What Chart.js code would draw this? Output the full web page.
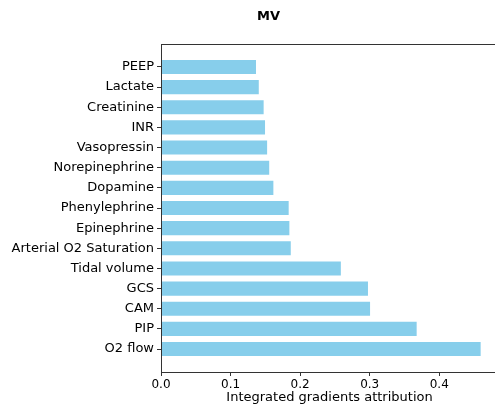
<!DOCTYPE html>
<html>
<head>
<meta charset="utf-8">
<script src="https://cdn.jsdelivr.net/npm/chart.js@4"></script>
<style>
html,body{margin:0;padding:0;background:#fff;overflow:hidden;width:495px;height:406px;}
canvas{display:block;}
</style>
</head>
<body>
<canvas id="c" width="510" height="406"></canvas>
<script>
// categories from bottom (index 0) to top
const categories = ["O2 flow","PIP","CAM","GCS","Tidal volume","Arterial O2 Saturation","Epinephrine","Phenylephrine","Dopamine","Norepinephrine","Vasopressin","INR","Creatinine","Lactate","PEEP"];
const attribution = [0.461,0.369,0.302,0.299,0.260,0.188,0.186,0.185,0.163,0.157,0.154,0.151,0.149,0.142,0.138];
const xTicks = [0.0,0.1,0.2,0.3,0.4];
const chartTitle = "MV";
const xLabel = "Integrated gradients attribution";

const points = categories.map((c,i)=>({x:attribution[i], y:i}));

const frame = {
  id:'frame',
  afterDatasetsDraw(chart){
    const {ctx, chartArea:a} = chart;
    ctx.save();
    ctx.strokeStyle = '#333';
    ctx.lineWidth = 1;
    ctx.strokeRect(Math.round(a.left)+0.5, Math.round(a.top)+0.5, Math.round(a.right-a.left), Math.round(a.bottom-a.top));
    ctx.restore();
  },
  afterDraw(chart){
    const ctx = chart.ctx;
    ctx.save();
    ctx.font = 'bold 13px "DejaVu Sans"';
    ctx.fillStyle = '#000';
    ctx.textAlign = 'center';
    ctx.textBaseline = 'middle';
    ctx.fillText(chartTitle, 268.5, 17);
    ctx.restore();
  }
};

new Chart(document.getElementById('c'), {
  type:'bar',
  data:{
    datasets:[{
      data: points,
      backgroundColor:'#87CEEB',
      borderColor:'rgba(255,255,255,0.6)',
      borderWidth:1,
      barPercentage:0.8,
      categoryPercentage:1.0
    }]
  },
  options:{
    indexAxis:'y',
    responsive:false,
    animation:false,
    layout:{padding:{top:44,right:12,left:0,bottom:0}},
    plugins:{legend:{display:false},tooltip:{enabled:false},title:{display:false}},
    scales:{
      x:{
        type:'linear', min:0, max:0.4845,
        afterBuildTicks(s){ s.ticks = xTicks.map(v=>({value:v})); },
        afterFit(s){ s.height = 34; },
        grid:{drawOnChartArea:false, drawTicks:true, tickLength:4, color:'#333'},
        border:{display:true, color:'#333', width:1},
        ticks:{color:'#000', font:{family:'"DejaVu Sans"', size:12}, padding:2, maxRotation:0,
          callback:(v)=>Number(v).toFixed(1)},
        title:{display:true, text:xLabel, color:'#000', font:{family:'"DejaVu Sans"', size:13}, padding:{top:0,bottom:1}}
      },
      y:{
        type:'linear', min:-1.14, max:15.14, offset:false,
        afterBuildTicks(s){ s.ticks = categories.map((c,i)=>({value:i})); },
        afterFit(s){ s.width = 161; },
        grid:{drawOnChartArea:false, drawTicks:true, tickLength:4, color:'#333', offset:false},
        border:{display:true, color:'#333', width:1},
        ticks:{color:'#000', font:{family:'"DejaVu Sans"', size:13}, padding:3, autoSkip:false,
          callback:(v)=>categories[v]}
      }
    }
  },
  plugins:[frame]
});
</script>
</body>
</html>
